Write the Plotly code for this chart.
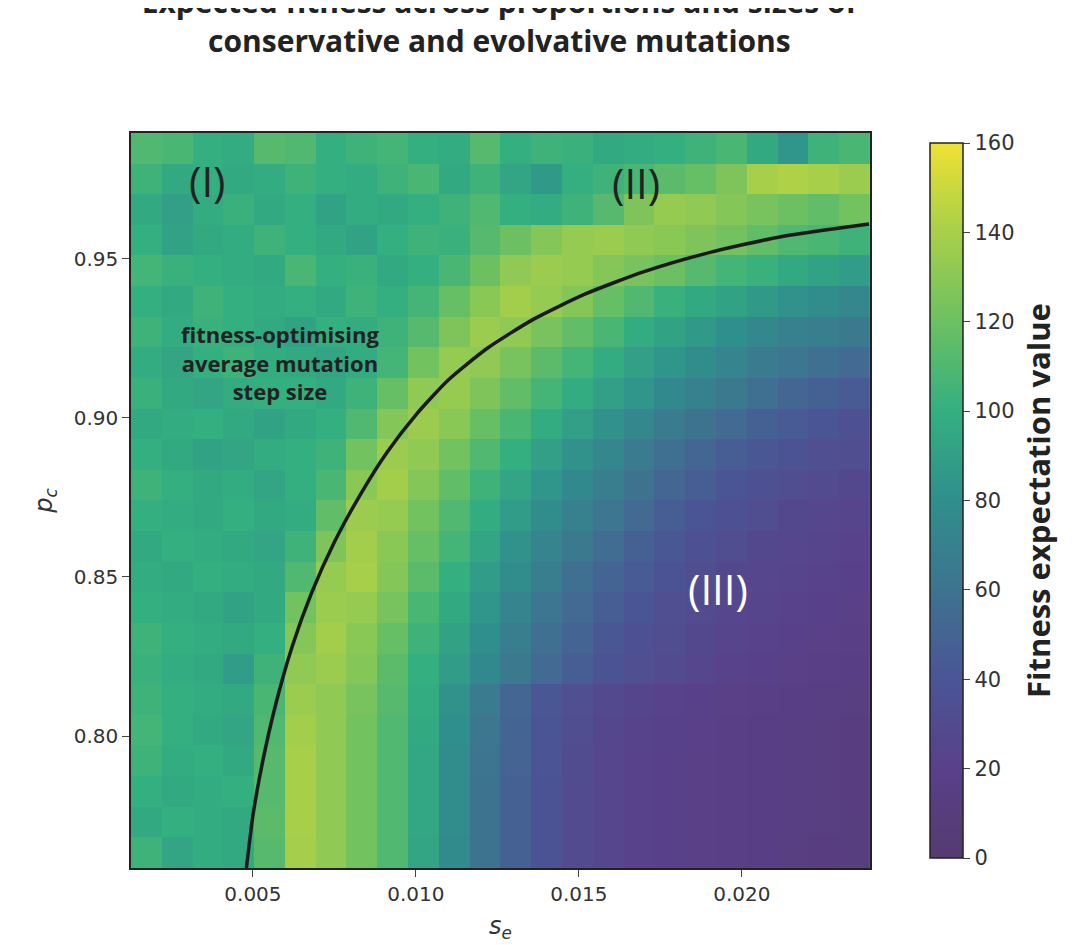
import plotly.graph_objects as go

# cell centres (24 x 24 grid)
se_step = 0.000945
pc_step = 0.00963
se_centres = [round(0.00173 + i * se_step, 6) for i in range(24)]
pc_centres = [round(0.7633 + j * pc_step, 5) for j in range(24)]

# fitness values, rows listed from top (high p_c) to bottom (low p_c)
fitness_top_down = [
    [110, 108, 100, 98, 112, 110, 100, 104, 106, 100, 98, 112, 100, 104, 102, 96, 98, 100, 104, 108, 96, 84, 104, 108],
    [104, 96, 100, 96, 98, 104, 100, 98, 104, 108, 96, 104, 94, 86, 100, 104, 108, 114, 118, 126, 140, 142, 140, 136],
    [96, 90, 98, 102, 96, 100, 92, 98, 96, 100, 104, 110, 100, 98, 104, 112, 126, 134, 132, 128, 124, 120, 116, 122],
    [100, 92, 96, 98, 104, 100, 96, 92, 100, 104, 102, 112, 120, 128, 134, 136, 132, 130, 126, 122, 116, 110, 108, 104],
    [106, 102, 100, 98, 96, 108, 100, 102, 96, 100, 108, 120, 132, 136, 134, 128, 124, 120, 112, 106, 102, 96, 92, 88],
    [100, 96, 104, 100, 98, 100, 96, 104, 100, 106, 118, 130, 138, 134, 128, 118, 110, 102, 96, 92, 86, 82, 78, 74],
    [104, 98, 102, 100, 96, 92, 100, 98, 104, 112, 126, 136, 132, 124, 116, 108, 98, 92, 86, 80, 74, 70, 68, 64],
    [98, 94, 100, 104, 98, 96, 94, 98, 106, 122, 134, 132, 124, 114, 106, 98, 90, 84, 78, 72, 66, 62, 58, 54],
    [102, 96, 94, 98, 100, 100, 96, 104, 118, 132, 134, 126, 116, 106, 98, 90, 84, 76, 70, 64, 58, 52, 48, 44],
    [96, 98, 100, 96, 92, 96, 100, 110, 128, 136, 130, 118, 108, 98, 90, 82, 74, 66, 60, 54, 48, 44, 40, 36],
    [100, 96, 92, 94, 98, 100, 104, 122, 136, 132, 122, 110, 100, 90, 82, 74, 66, 58, 52, 46, 42, 38, 34, 32],
    [104, 100, 96, 98, 94, 100, 108, 130, 138, 128, 116, 104, 94, 84, 76, 68, 60, 52, 46, 40, 36, 32, 30, 28],
    [100, 98, 96, 100, 96, 98, 116, 136, 134, 122, 110, 98, 88, 78, 70, 62, 54, 46, 40, 36, 32, 28, 26, 24],
    [96, 100, 98, 96, 94, 104, 126, 138, 130, 118, 106, 94, 82, 72, 64, 56, 48, 42, 36, 32, 28, 26, 24, 22],
    [98, 96, 100, 98, 96, 110, 134, 140, 128, 114, 100, 88, 78, 68, 58, 50, 44, 38, 32, 28, 26, 24, 22, 20],
    [100, 98, 96, 92, 96, 122, 136, 134, 124, 108, 96, 84, 72, 62, 54, 46, 40, 34, 30, 26, 24, 22, 20, 18],
    [104, 100, 98, 96, 100, 128, 138, 130, 118, 104, 92, 80, 68, 58, 50, 42, 36, 32, 28, 24, 22, 20, 18, 17],
    [102, 98, 96, 88, 104, 132, 136, 128, 114, 100, 88, 76, 64, 54, 46, 38, 34, 30, 26, 22, 20, 18, 17, 16],
    [104, 100, 98, 96, 108, 136, 132, 124, 112, 98, 82, 66, 52, 42, 34, 29, 25, 22, 20, 18, 17, 16, 15, 14],
    [106, 100, 96, 94, 110, 138, 132, 122, 110, 96, 80, 63, 50, 40, 32, 27, 23, 21, 19, 17, 16, 15, 14, 13],
    [104, 98, 100, 96, 112, 140, 132, 122, 110, 95, 78, 61, 49, 39, 31, 26, 22, 20, 18, 17, 16, 15, 14, 13],
    [100, 96, 98, 100, 112, 140, 132, 122, 110, 95, 78, 60, 48, 38, 30, 26, 22, 20, 18, 17, 16, 15, 14, 13],
    [96, 100, 98, 96, 114, 140, 132, 122, 110, 95, 78, 60, 48, 38, 30, 26, 22, 20, 18, 17, 16, 15, 14, 12],
    [104, 94, 98, 96, 112, 139, 132, 122, 110, 94, 77, 60, 48, 38, 30, 26, 22, 20, 18, 17, 16, 14, 13, 12],
]
fitness = fitness_top_down[::-1]

# fitness-optimising average mutation step size curve
curve_se = [0.0048, 0.0050, 0.0053, 0.0057, 0.0062, 0.0068, 0.0075, 0.0083, 0.0091, 0.0100,
            0.0110, 0.0122, 0.0136, 0.0152, 0.0170, 0.0190, 0.0212, 0.0239]
curve_pc = [0.7585, 0.775, 0.792, 0.810, 0.828, 0.845, 0.861, 0.876, 0.889, 0.901,
            0.912, 0.922, 0.931, 0.939, 0.946, 0.952, 0.957, 0.961]

colorscale = [
    [0.0, "#553b6f"], [0.125, "#59408a"], [0.25, "#4a5595"], [0.375, "#3e7390"],
    [0.5, "#2f8f8c"], [0.625, "#34af80"], [0.75, "#6cc062"], [0.875, "#a8cf4a"],
    [1.0, "#eee234"],
]

fig = go.Figure()
fig.add_trace(go.Heatmap(
    x=se_centres, y=pc_centres, z=fitness, zmin=0, zmax=160,
    colorscale=colorscale,
    colorbar=dict(
        x=1.068, xanchor="left", y=0.5, len=1.0, thickness=33,
        outlinecolor="#222", outlinewidth=1.5,
        tickvals=[0, 20, 40, 60, 80, 100, 120, 140, 160],
        ticks="outside", ticklen=7, tickfont=dict(size=21, color="#333", family="DejaVu Sans"),
        title=dict(text="<b>Fitness expectation value</b>", side="right",
                   font=dict(size=31, color="#222", family="Open Sans")),
    ),
))
fig.add_trace(go.Scatter(x=curve_se, y=curve_pc, mode="lines",
                         line=dict(color="#1a1a1a", width=3.5, shape="spline", smoothing=0.6),
                         showlegend=False, hoverinfo="skip"))

fig.add_annotation(x=0.00362, y=0.9748, text="(I)", showarrow=False,
                   font=dict(size=42, color="#222", family="Open Sans"))
fig.add_annotation(x=0.01675, y=0.9739, text="(II)", showarrow=False,
                   font=dict(size=42, color="#222", family="Open Sans"))
fig.add_annotation(x=0.01926, y=0.8465, text="(III)", showarrow=False,
                   font=dict(size=42, color="white", family="Open Sans"))
fig.add_annotation(x=0.00583, y=0.9173,
                   text="<b>fitness-optimising<br>average mutation<br>step size</b>",
                   showarrow=False, align="center",
                   font=dict(size=22, color="#222", family="Open Sans"))

fig.update_layout(
    width=1092, height=945,
    margin=dict(l=123, r=230, t=125, b=85, autoexpand=False),
    paper_bgcolor="white", plot_bgcolor="white",
    title=dict(text="<b>Expected fitness across proportions and sizes of<br>conservative and evolvative mutations</b>",
               x=0.45, xanchor="center", y=0.995, yanchor="top",
               font=dict(size=30, color="#222", family="Open Sans")),
    showlegend=False,
)
fig.update_xaxes(range=[0.00126, 0.02393], tickvals=[0.005, 0.010, 0.015, 0.020],
                 ticktext=["0.005", "0.010", "0.015", "0.020"],
                 ticks="outside", ticklen=7, showgrid=False, zeroline=False,
                 showline=True, linecolor="#222", linewidth=1.5, mirror=True,
                 tickfont=dict(size=20, color="#333", family="DejaVu Sans"),
                 title=dict(text="<i>s<sub>e</sub></i>", standoff=12,
                            font=dict(size=24, color="#333", family="DejaVu Sans")))
fig.update_yaxes(range=[0.7585, 0.9896], tickvals=[0.80, 0.85, 0.90, 0.95],
                 ticktext=["0.80", "0.85", "0.90", "0.95"],
                 ticks="outside", ticklen=7, showgrid=False, zeroline=False,
                 showline=True, linecolor="#222", linewidth=1.5, mirror=True,
                 tickfont=dict(size=20, color="#333", family="DejaVu Sans"),
                 title=dict(text="<i>p<sub>c</sub></i>", standoff=14,
                            font=dict(size=24, color="#333", family="DejaVu Sans")))

fig.write_html("out.html")
